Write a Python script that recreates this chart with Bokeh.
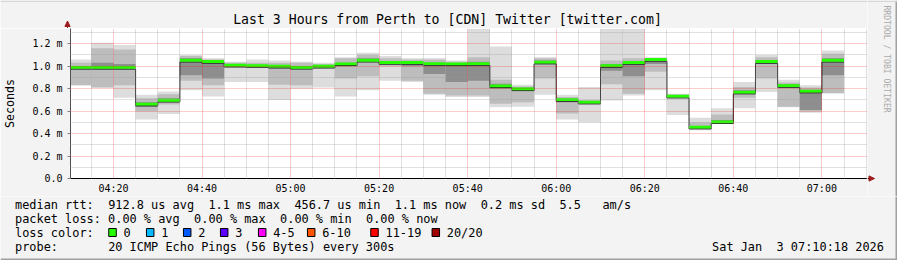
import re
import numpy as np
import pandas as pd
from bokeh.plotting import figure
from bokeh.layouts import column, row
from bokeh.models import (ColumnDataSource, Range1d, FixedTicker,
                          DatetimeTickFormatter, Plot)
from bokeh.core.properties import value
from bokeh.embed import file_html
from bokeh.resources import INLINE

MONO = "DejaVu Sans Mono"

# ---------------- data ----------------
title_text = "Last 3 Hours from Perth to [CDN] Twitter [twitter.com]"
credit_text = "RRDTOOL / TOBI OETIKER"
y_label = "Seconds"
t_start = pd.Timestamp("2026-01-03 04:10:18")
t_end = pd.Timestamp("2026-01-03 07:10:18")
slot_ends = pd.date_range("2026-01-03 04:15", "2026-01-03 07:05", freq="5min")

# median RTT per 5-minute slot (ms)
median = [0.990, 0.990, 0.990, 0.662, 0.697, 1.053, 1.042, 1.009, 1.006, 1.000,
          0.990, 1.000, 1.021, 1.053, 1.033, 1.033, 1.024, 1.021, 1.024, 0.825,
          0.798, 1.036, 0.703, 0.680, 1.006, 1.033, 1.060, 0.733, 0.457, 0.505,
          0.769, 1.042, 0.828, 0.778, 1.053]
# smoke: full ping spread (min..max)
smoke_lo = [0.830, 0.810, 0.720, 0.525, 0.575, 0.785, 0.730, 0.860, 0.860, 0.700,
            0.800, 0.810, 0.730, 0.785, 0.870, 0.860, 0.745, 0.725, 0.725, 0.635,
            0.640, 0.745, 0.525, 0.500, 0.695, 0.740, 0.785, 0.565, 0.430, 0.487,
            0.625, 0.770, 0.635, 0.585, 0.760]
smoke_hi = [1.060, 1.210, 1.190, 0.745, 0.775, 1.100, 1.070, 1.040, 1.060, 1.050,
            1.040, 1.030, 1.080, 1.120, 1.090, 1.070, 1.070, 1.050, 1.333, 1.175,
            0.835, 1.080, 0.745, 0.815, 1.333, 1.333, 1.080, 0.755, 0.540, 0.626,
            0.860, 1.100, 0.880, 0.830, 1.140]
# smoke: middle ping spread
mid_lo = [0.830, 0.810, 0.830, 0.600, 0.660, 0.870, 0.830, 0.985, 0.990, 0.835,
          0.830, 0.975, 0.890, 0.910, 1.000, 0.870, 0.755, 0.740, 0.740, 0.665,
          0.680, 0.890, 0.580, 0.660, 0.840, 0.755, 0.950, 0.720, 0.440, 0.495,
          0.720, 0.890, 0.640, 0.600, 0.760]
mid_hi = [1.030, 1.160, 1.150, 0.715, 0.750, 1.090, 1.060, 1.030, 1.030, 1.030,
          1.030, 1.020, 1.070, 1.100, 1.070, 1.060, 1.060, 1.040, 1.080, 0.880,
          0.820, 1.070, 0.725, 0.700, 1.050, 1.070, 1.070, 0.745, 0.500, 0.570,
          0.815, 1.080, 0.855, 0.810, 1.110]
# smoke: core ping spread
core_lo = [0.970, 0.970, 0.970, 0.640, 0.680, 0.920, 0.890, 1.000, 1.000, 0.980,
           0.975, 0.990, 1.000, 1.040, 1.020, 1.000, 0.930, 0.860, 0.870, 0.800,
           0.790, 1.020, 0.680, 0.670, 0.960, 0.910, 1.020, 0.725, 0.445, 0.500,
           0.755, 1.020, 0.810, 0.610, 0.920]
core_hi = [1.000, 1.030, 1.020, 0.680, 0.715, 1.070, 1.040, 1.015, 1.012, 1.010,
           0.995, 1.010, 1.030, 1.070, 1.045, 1.035, 1.030, 1.015, 1.040, 0.845,
           0.810, 1.050, 0.710, 0.690, 1.020, 1.040, 1.065, 0.740, 0.465, 0.520,
           0.785, 1.055, 0.840, 0.790, 1.070]

y_ticks = [0.0, 0.2, 0.4, 0.6, 0.8, 1.0, 1.2]
y_tick_labels = ["0.0", "0.2 m", "0.4 m", "0.6 m", "0.8 m", "1.0 m", "1.2 m"]
y_minor = [0.1, 0.3, 0.5, 0.7, 0.9, 1.1, 1.3]
x_tick_labels = ["04:20", "04:40", "05:00", "05:20", "05:40", "06:00", "06:20", "06:40", "07:00"]

stats_lines = [
    "median rtt:  912.8 us avg  1.1 ms max  456.7 us min  1.1 ms now  0.2 ms sd  5.5   am/s",
    "packet loss: 0.00 % avg  0.00 % max  0.00 % min  0.00 % now",
]
loss_title = "loss color:"
loss_labels = ["0", "1", "2", "3", "4-5", "6-10", "11-19", "20/20"]
loss_colors = ["#26ff00", "#00b8ff", "#0059ff", "#5e00ff", "#ff00ff", "#ff5500", "#ff0000", "#a10000"]
probe_line = "probe:       20 ICMP Echo Pings (56 Bytes) every 300s"
date_text = "Sat Jan  3 07:10:18 2026"

# ---------------- layout constants ----------------
W, H = 897, 260
FRAME_L, FRAME_R, FRAME_T, FRAME_B = 67, 867, 28, 178
MID_H = 196 - FRAME_T          # height of the chart strip (below the title strip)
LEG_H = H - 196
Y_TOP = 1.336
PX_PER_MS = (FRAME_B - FRAME_T) / Y_TOP
BG = "#f3f3f3"
HAS_FA = "frame_align" in Plot.properties()


def ms(ts):
    return pd.Timestamp(ts).value / 1e6


T0, T1 = ms(t_start), ms(t_end)


def strip(width, height, xr, yr):
    f = figure(width=width, height=height, x_range=Range1d(*xr), y_range=Range1d(*yr),
               output_backend="svg", toolbar_location=None,
               x_axis_location=None, y_axis_location=None,
               min_border_left=0, min_border_right=0, min_border_top=0, min_border_bottom=0,
               background_fill_color=BG, border_fill_color=BG, outline_line_color=None)
    f.grid.visible = False
    if HAS_FA:
        f.frame_align = False
    return f


# ---------------- main chart ----------------
p = figure(width=FRAME_R, height=MID_H, x_axis_type="datetime",
           x_range=Range1d(T0, T1), y_range=Range1d(0, Y_TOP),
           output_backend="svg", toolbar_location=None,
           min_border_left=FRAME_L, min_border_right=0,
           min_border_top=0, min_border_bottom=196 - FRAME_B,
           background_fill_color="white", border_fill_color=BG,
           outline_line_color=None)
if HAS_FA:
    p.frame_align = False

rights = [ms(t) for t in slot_ends]
lefts = [max(ms(t - pd.Timedelta(minutes=5)), T0) for t in slot_ends]
med = np.array(median)
src = ColumnDataSource(dict(left=lefts, right=rights,
                            slo=smoke_lo, shi=smoke_hi, mlo=mid_lo, mhi=mid_hi,
                            clo=core_lo, chi=core_hi,
                            glo=med - 1.4 / PX_PER_MS, ghi=med + 1.4 / PX_PER_MS))
p.quad(left="left", right="right", bottom="slo", top="shi", source=src,
       fill_color="#dddddd", line_color=None)
p.quad(left="left", right="right", bottom="mlo", top="mhi", source=src,
       fill_color="#bdbdbd", line_color=None)
p.quad(left="left", right="right", bottom="clo", top="chi", source=src,
       fill_color="#8e8e8e", line_color=None)

step_x = lefts + [rights[-1]]
step_y = list(med - 1.7 / PX_PER_MS) + [med[-1] - 1.7 / PX_PER_MS]
p.step(x=step_x, y=step_y, mode="after", line_color="#202020", line_width=1)
p.quad(left="left", right="right", bottom="glo", top="ghi", source=src,
       fill_color=loss_colors[0], line_color=None)

x_major = [ms(pd.Timestamp("2026-01-03 " + s)) for s in x_tick_labels]
x_minor = [ms(t) for t in pd.date_range("2026-01-03 04:15", "2026-01-03 07:10", freq="5min")
           if ms(t) not in x_major]
p.xaxis.ticker = FixedTicker(ticks=x_major, minor_ticks=x_minor)
p.xaxis.formatter = DatetimeTickFormatter(minutes="%H:%M", hourmin="%H:%M", hours="%H:%M")
p.yaxis.ticker = FixedTicker(ticks=y_ticks, minor_ticks=y_minor)
p.yaxis.major_label_overrides = dict(zip(y_ticks, y_tick_labels))

for ax in (p.xaxis[0], p.yaxis[0]):
    ax.major_label_text_font = MONO
    ax.major_label_text_font_size = "10px"
    ax.major_label_text_color = "black"
    ax.minor_tick_line_color = None
    ax.minor_tick_out = 0
    ax.minor_tick_in = 0
p.xaxis.axis_line_color = "black"
p.xaxis.major_tick_out = 0
p.xaxis.major_tick_in = 0
p.xaxis.major_label_standoff = 4
p.yaxis.axis_line_color = "#505050"
p.yaxis.major_tick_out = 3
p.yaxis.major_tick_in = 0
p.yaxis.major_tick_line_color = "#808080"
p.yaxis.major_label_standoff = 5
p.yaxis.axis_label = y_label
p.yaxis.axis_label_text_font = MONO
p.yaxis.axis_label_text_font_size = "11.6px"
p.yaxis.axis_label_text_font_style = "normal"
p.yaxis.axis_label_text_color = "black"
p.yaxis.axis_label_standoff = 12

for g in (p.xgrid[0], p.ygrid[0]):
    g.grid_line_color = "#ff0000"
    g.grid_line_alpha = 0.4
    g.grid_line_dash = "1 1"
    g.minor_grid_line_color = "#9a9a9a"
    g.minor_grid_line_alpha = 0.6
    g.minor_grid_line_dash = "1 1"
    g.level = "overlay"

# ---------------- title strip (above chart) ----------------
t = strip(FRAME_R, FRAME_T, (0, FRAME_R), (FRAME_T, 0))
t.text(x=[447], y=[18.7], text=[title_text], text_font=value(MONO), text_font_size="13.2px",
       text_align="center", text_baseline="middle", text_color="black")
t.segment(x0=[FRAME_L], y0=[FRAME_T], x1=[FRAME_L], y1=[24], line_color="#505050", line_width=1)
t.patch(x=[FRAME_L - 2.6, FRAME_L + 2.6, FRAME_L], y=[26, 26, 20.5], color="#9d1b1b")
t.segment(x0=[0], y0=[0.75], x1=[FRAME_R], y1=[0.75], line_color="#d6d6d6", line_width=1.5)

# ---------------- right strip (arrow + credit) ----------------
r = strip(W - FRAME_R, 196, (FRAME_R, W), (196, 0))
r.segment(x0=[FRAME_R], y0=[FRAME_B], x1=[FRAME_R + 3], y1=[FRAME_B], line_color="black", line_width=1)
r.patch(x=[FRAME_R + 1.5, FRAME_R + 1.5, FRAME_R + 7], y=[FRAME_B - 2.6, FRAME_B + 2.6, FRAME_B],
        color="#9d1b1b")
r.text(x=[886], y=[5], text=[credit_text], angle=-np.pi / 2, text_font=value(MONO),
       text_font_size="8.1px", text_align="left", text_baseline="middle", text_color="#aaaaaa")
r.segment(x0=[W - 1], y0=[0], x1=[W - 1], y1=[196], line_color="#a0a0a0", line_width=2)
r.segment(x0=[FRAME_R], y0=[0.75], x1=[W], y1=[0.75], line_color="#d6d6d6", line_width=1.5)

# ---------------- legend strip ----------------
q = strip(W, LEG_H, (0, W), (LEG_H, 0))

FS = 11.9
CW = FS * 0.602
X0 = 14.5
LINE_Y = [8, 22, 36, 50]

tx, ty, tt = [], [], []


def place(line, x0, y):
    for m in re.finditer(r"\S+(?: \S+)*", line):
        tx.append(x0 + m.start() * CW)
        ty.append(y)
        tt.append(m.group())


place(stats_lines[0], X0, LINE_Y[0])
place(stats_lines[1], X0, LINE_Y[1])
place(loss_title, X0, LINE_Y[2])
place(probe_line, X0, LINE_Y[3])
place(date_text, 883.5 - len(date_text) * CW, LINE_Y[3])

sq_x = [108, 145.7, 182.7, 219.7, 257.7, 306.7, 370, 431.3]
for sx, lab in zip(sq_x, loss_labels):
    tx.append(sx + 15)
    ty.append(LINE_Y[2])
    tt.append(lab)

q.text(x=tx, y=ty, text=tt, text_font=value(MONO), text_font_size=f"{FS}px",
       text_baseline="middle", text_align="left", text_color="black")
q.rect(x=[s + 4 for s in sq_x], y=[LINE_Y[2]] * len(sq_x), width=7.5, height=8,
       fill_color=loss_colors, line_color="black", line_width=1)
q.segment(x0=[0], y0=[LEG_H - 1], x1=[W], y1=[LEG_H - 1], line_color="#a0a0a0", line_width=2)
q.segment(x0=[W - 1], y0=[0], x1=[W - 1], y1=[LEG_H], line_color="#a0a0a0", line_width=2)

layout = column(row(column(t, p, spacing=0), r, spacing=0), q, spacing=0)
open("out.html", "w").write(file_html(layout, INLINE))
